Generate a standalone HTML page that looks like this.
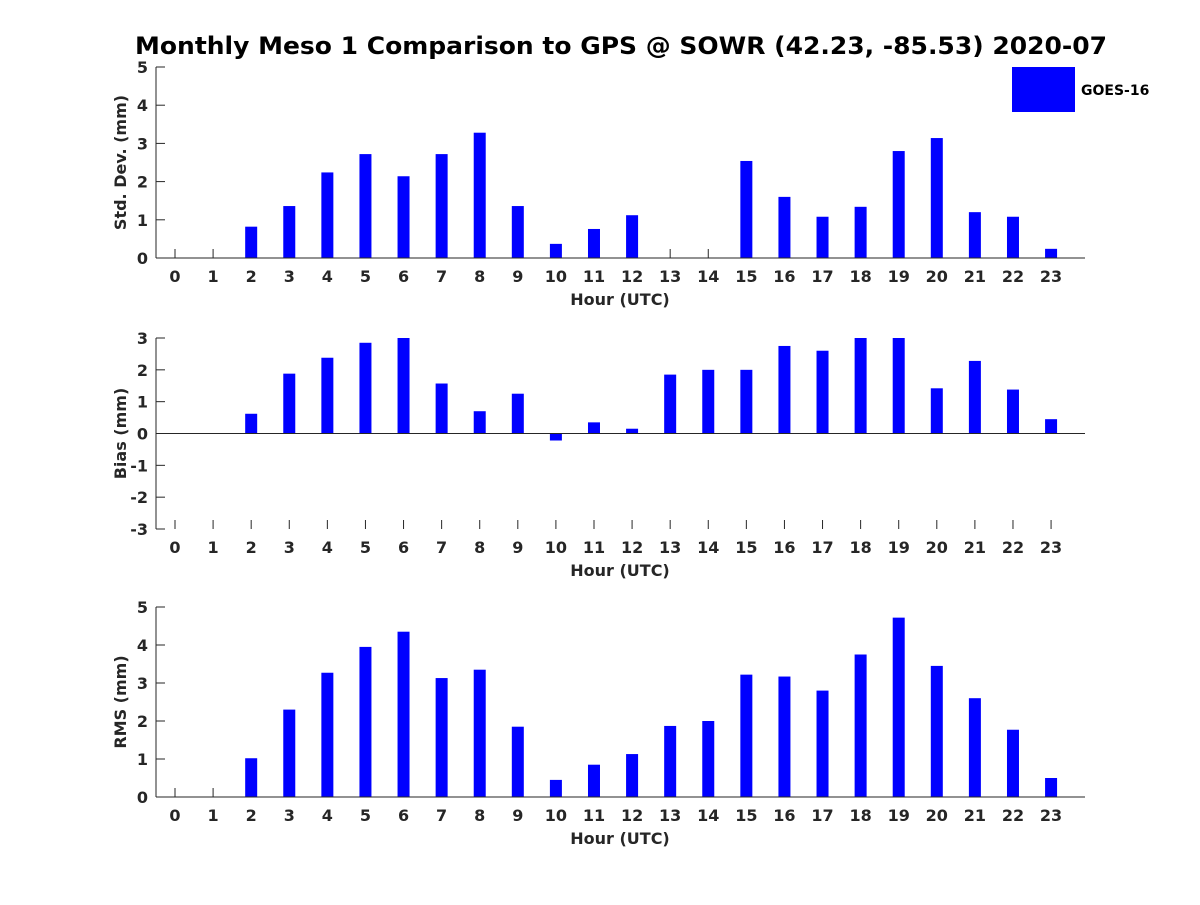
<!DOCTYPE html>
<html><head><meta charset="utf-8"><style>
body{margin:0;background:#fff}
svg text{font-family:"DejaVu Sans","Liberation Sans",sans-serif;font-weight:bold;fill:#262626}
</style></head><body>
<svg id="chart" width="1200" height="900" xmlns="http://www.w3.org/2000/svg">
<text x="621" y="54" text-anchor="middle" font-size="24" textLength="972" lengthAdjust="spacingAndGlyphs" style="fill:#000">Monthly Meso 1 Comparison to GPS @ SOWR (42.23, -85.53) 2020-07</text>
<rect x="1012" y="67" width="63" height="45" fill="#0000ff"/>
<text x="1081" y="95" font-size="14" style="fill:#000">GOES-16</text>
</svg>
<script>
const hours=[0,1,2,3,4,5,6,7,8,9,10,11,12,13,14,15,16,17,18,19,20,21,22,23];
const stdValues=[0,0,0.82,1.36,2.24,2.72,2.14,2.72,3.28,1.36,0.37,0.76,1.12,0,0,2.54,1.6,1.08,1.34,2.8,3.14,1.2,1.08,0.24];
const biasValues=[0,0,0.62,1.88,2.38,2.85,3.0,1.57,0.7,1.25,-0.22,0.35,0.15,1.85,2.0,2.0,2.75,2.6,3.0,3.0,1.42,2.28,1.38,0.45];
const rmsValues=[0,0,1.02,2.3,3.27,3.95,4.35,3.13,3.35,1.85,0.45,0.85,1.13,1.87,2.0,3.22,3.17,2.8,3.75,4.72,3.45,2.6,1.77,0.5];
const stdTicks=[0,1,2,3,4,5];
const biasTicks=[-3,-2,-1,0,1,2,3];
const rmsTicks=[0,1,2,3,4,5];
const NS='http://www.w3.org/2000/svg';
const svg=document.getElementById('chart');
function mk(t,a){const e=document.createElementNS(NS,t);for(const k in a)e.setAttribute(k,a[k]);svg.appendChild(e);return e;}
const xL=156,xR=1085;
function xs(h){return 175+h*38.09;}
function panel(name,top,bot,ymin,ymax,ticks,vals,ylabel){
  const ys=v=>bot-(v-ymin)/(ymax-ymin)*(bot-top);
  const y0=ys(Math.max(0,ymin));
  hours.forEach(h=>{
    const x=xs(h);
    const l=mk('line',{x1:x,y1:bot,x2:x,y2:bot-9,stroke:'#262626'});
    
    
    const tx=mk('text',{x:x,y:bot+24,'text-anchor':'middle','font-size':16});
    tx.textContent=h;
    
    
  });
  vals.forEach((v,i)=>{
    const y=ys(v);
    const r=mk('rect',{x:xs(hours[i])-6,y:Math.min(y,y0),width:12,height:Math.abs(y0-y),fill:'#0000ff'});
    
    
  });
  let a=mk('line',{x1:xL,y1:top,x2:xL,y2:bot,stroke:'#262626','stroke-width':1});
  
  
  a=mk('line',{x1:xL,y1:y0,x2:xR,y2:y0,stroke:'#262626','stroke-width':1});
  
  
  ticks.forEach(t=>{
    const y=ys(t);
    const l=mk('line',{x1:xL,y1:y,x2:xL+9,y2:y,stroke:'#262626'});
    
    
    const tx=mk('text',{x:xL-8,y:y+6,'text-anchor':'end','font-size':16});
    tx.textContent=t;
    
    
  });
  const xt=mk('text',{x:620,y:bot+47,'text-anchor':'middle','font-size':16});
  xt.textContent='Hour (UTC)';
  
  
  const cy=(top+bot)/2;
  const yt=mk('text',{x:126,y:cy,'text-anchor':'middle','font-size':16,transform:'rotate(-90 126 '+cy+')'});
  yt.textContent=ylabel;
  
  
}
panel('std',67,258,0,5,stdTicks,stdValues,'Std. Dev. (mm)');
panel('bias',338,529,-3,3,biasTicks,biasValues,'Bias (mm)');
panel('rms',607,797,0,5,rmsTicks,rmsValues,'RMS (mm)');
</script>
</body></html>
